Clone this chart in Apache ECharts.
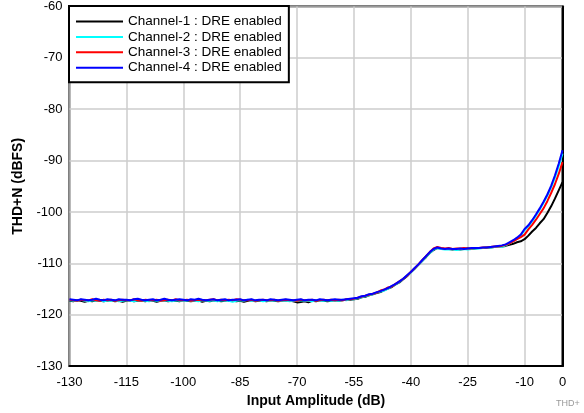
<!DOCTYPE html>
<html><head><meta charset="utf-8">
<script src="https://cdn.jsdelivr.net/npm/echarts@6/dist/echarts.min.js"></script>
<style>html,body{margin:0;padding:0;background:#fff}#c{width:584px;height:413px}</style>
</head><body><div id="c"></div>
<script>
const inputAmplitude = [-130,-129,-128,-127,-126,-125,-124,-123,-122,-121,-120,-119,-118,-117,-116,-115,-114,-113,-112,-111,-110,-109,-108,-107,-106,-105,-104,-103,-102,-101,-100,-99,-98,-97,-96,-95,-94,-93,-92,-91,-90,-89,-88,-87,-86,-85,-84,-83,-82,-81,-80,-79,-78,-77,-76,-75,-74,-73,-72,-71,-70,-69,-68,-67,-66,-65,-64,-63,-62,-61,-60,-59,-58,-57,-56,-55,-54,-53,-52,-51,-50,-49,-48,-47,-46,-45,-44,-43,-42,-41,-40,-39,-38,-37,-36,-35,-34,-33,-32,-31,-30,-29,-28,-27,-26,-25,-24,-23,-22,-21,-20,-19,-18,-17,-16,-15,-14,-13,-12,-11,-10,-9,-8,-7,-6,-5,-4,-3,-2,-1,0];

const ch1 = [-117.3,-117.4,-117.2,-117.3,-117.5,-117.3,-117.4,-117.2,-117.3,-117.4,
 -117.3,-117.2,-117.4,-117.3,-117.5,-117.3,-117.2,-117.4,-117.3,-117.3,
 -117.4,-117.2,-117.3,-117.5,-117.3,-117.2,-117.4,-117.3,-117.3,-117.4,
 -117.2,-117.3,-117.4,-117.3,-117.2,-117.5,-117.3,-117.4,-117.2,-117.3,
 -117.4,-117.3,-117.2,-117.3,-117.4,-117.3,-117.5,-117.3,-117.2,-117.4,
 -117.3,-117.3,-117.4,-117.2,-117.3,-117.4,-117.3,-117.2,-117.3,-117.4,
 -117.6,-117.5,-117.4,-117.6,-117.3,-117.4,-117.2,-117.3,-117.4,-117.3,
 -117.2,-117.3,-117.2,-117.1,
 -117.1,-117.0,-116.9,-116.6,-116.5,-116.2,-116.0,-115.8,-115.6,-115.2,-114.9,-114.6,-114.1,-113.7,-113.1,-112.5,-111.7,-111.0,-110.3,-109.5,-108.8,-108.0,-107.4,
 -107.0,-107.1,-107.2,-107.2,-107.3,-107.2,-107.3,-107.2,-107.1,-107.2,-107.1,-107.0,-107.0,-106.9,-106.9,-106.8,-106.7,-106.7,
 -106.6,-106.4,-106.2,-105.9,-105.7,-105.3,-104.6,-103.8,-103.1,-102.2,-101.4,-100.2,-98.9,-97.4,-95.8,-94.2];

const ch2 = [-117.2,-117.3,-117.3,-117.1,-117.3,-117.4,-117.2,-117.3,-117.2,-117.4,
 -117.3,-117.3,-117.2,-117.4,-117.3,-117.2,-117.3,-117.4,-117.2,-117.3,
 -117.3,-117.4,-117.2,-117.3,-117.3,-117.2,-117.3,-117.4,-117.2,-117.3,
 -117.3,-117.2,-117.3,-117.3,-117.4,-117.2,-117.3,-117.3,-117.2,-117.4,
 -117.2,-117.3,-117.3,-117.5,-117.3,-117.2,-117.3,-117.1,-117.3,-117.3,
 -117.2,-117.4,-117.3,-117.3,-117.2,-117.3,-117.3,-117.2,-117.4,-117.3,
 -117.3,-117.2,-117.3,-117.3,-117.4,-117.2,-117.3,-117.3,-117.2,-117.3,
 -117.2,-117.3,-117.1,-117.2,
 -117.0,-117.0,-116.8,-116.6,-116.4,-116.2,-116.0,-115.7,-115.5,-115.3,-114.9,-114.5,-114.1,-113.6,-113.0,-112.4,-111.8,-111.1,-110.3,-109.6,-108.7,-108.0,-107.3,
 -107.0,-107.2,-107.3,-107.3,-107.2,-107.4,-107.3,-107.2,-107.3,-107.2,-107.1,-107.1,-107.0,-106.9,-106.9,-106.8,-106.7,-106.8,
 -106.5,-106.1,-105.7,-105.2,-104.6,-103.5,-102.8,-101.8,-100.7,-99.5,-98.2,-96.8,-95.2,-93.3,-91.1,-88.6];

const ch3 = [-117.1,-117.2,-117.3,-117.1,-117.2,-117.2,-117.0,-117.2,-117.3,-117.1,
 -117.2,-117.1,-117.3,-117.2,-117.1,-117.2,-117.2,-117.0,-117.2,-117.3,
 -117.1,-117.2,-117.2,-117.1,-117.3,-117.2,-117.1,-117.2,-117.0,-117.2,
 -117.2,-117.1,-117.3,-117.2,-117.1,-117.2,-117.2,-117.1,-117.0,-117.2,
 -117.1,-117.2,-117.1,-117.2,-117.0,-117.1,-117.2,-117.2,-117.1,-117.3,
 -117.2,-117.1,-117.2,-117.2,-117.1,-117.3,-117.2,-117.1,-117.2,-117.2,
 -117.3,-117.1,-117.2,-117.2,-117.1,-117.3,-117.2,-117.1,-117.2,-117.1,
 -117.2,-117.1,-117.2,-117.0,
 -117.0,-116.9,-116.7,-116.5,-116.3,-116.1,-115.9,-115.7,-115.3,-115.1,-114.7,-114.5,-114.0,-113.5,-113.0,-112.4,-111.7,-111.0,-110.2,-109.4,-108.6,-107.8,-107.1,
 -106.8,-107.0,-107.1,-107.0,-107.2,-107.1,-107.1,-107.0,-107.1,-107.1,-107.0,-107.0,-106.9,-106.9,-106.8,-106.7,-106.7,-106.6,
 -106.4,-106.1,-105.7,-105.3,-104.9,-104.4,-103.4,-102.5,-101.5,-100.4,-99.3,-97.9,-96.3,-94.6,-92.6,-90.3];

const ch4 = [-117.0,-117.1,-117.2,-117.0,-117.1,-117.2,-117.1,-116.9,-117.1,-117.2,
 -117.0,-117.1,-117.2,-117.0,-117.1,-117.1,-117.2,-117.0,-116.9,-117.1,
 -117.2,-117.1,-117.0,-117.2,-117.1,-116.9,-117.1,-117.2,-117.1,-117.0,
 -117.1,-117.2,-117.0,-117.1,-116.9,-117.1,-117.2,-117.1,-117.0,-117.2,
 -117.1,-117.0,-117.2,-117.1,-117.1,-117.0,-117.2,-117.1,-117.0,-117.2,
 -117.1,-117.1,-117.2,-117.0,-117.1,-117.2,-117.1,-117.0,-117.1,-117.2,
 -117.1,-117.0,-117.2,-117.1,-117.1,-117.2,-117.0,-117.1,-117.2,-117.1,
 -117.0,-117.1,-117.1,-117.0,
 -116.9,-116.8,-116.7,-116.4,-116.3,-116.0,-115.9,-115.6,-115.4,-115.1,-114.8,-114.4,-114.0,-113.5,-113.0,-112.3,-111.7,-110.9,-110.2,-109.4,-108.6,-107.8,-107.2,
 -106.9,-107.1,-107.2,-107.1,-107.2,-107.2,-107.1,-107.2,-107.1,-107.0,-107.0,-107.0,-106.9,-106.9,-106.8,-106.7,-106.6,-106.5,
 -106.3,-105.9,-105.5,-105.0,-104.4,-103.3,-102.6,-101.6,-100.5,-99.3,-98.0,-96.6,-94.9,-92.9,-90.6,-88.0];

const seriesNames = ['Channel-1 : DRE enabled','Channel-2 : DRE enabled','Channel-3 : DRE enabled','Channel-4 : DRE enabled'];
const seriesColors = ['#000000','#00ffff','#ff0000','#0000ff'];
const seriesValues = [ch1, ch2, ch3, ch4];

const FONT = 'Liberation Sans, Arial, Helvetica, sans-serif';
const chart = echarts.init(document.getElementById('c'), null, {renderer:'canvas'});
chart.setOption({
  animation:false,
  backgroundColor:'#fff',
  grid:{left:69.5,right:21.5,top:5.5,bottom:46,show:true,borderColor:'#000',borderWidth:2,containLabel:false},
  legend:{
    orient:'vertical', left:69, top:6,
    backgroundColor:'#fff', borderColor:'#000', borderWidth:2,
    padding:[8,7,7,7], itemGap:0.4, itemWidth:47, itemHeight:2, itemTextGap:6,
    icon:'rect',
    textStyle:{fontFamily:FONT,fontSize:13.5,color:'#000',lineHeight:15},
    data:seriesNames
  },
  xAxis:{
    type:'value', min:-130, max:0, interval:15,
    name:'Input Amplitude (dB)', nameLocation:'middle', nameGap:24,
    nameTextStyle:{fontFamily:FONT,fontSize:14,fontWeight:'bold',color:'#000'},
    axisLine:{show:true,lineStyle:{color:'#000',width:2}},
    axisTick:{show:false},
    axisLabel:{fontFamily:FONT,fontSize:13,color:'#000',margin:10,showMaxLabel:true},
    splitLine:{show:true,lineStyle:{color:'#cccccc',width:1.5}}
  },
  yAxis:{
    type:'value', min:-130, max:-60, interval:10,
    name:'THD+N (dBFS)', nameLocation:'middle', nameGap:41,
    nameTextStyle:{fontFamily:FONT,fontSize:14,fontWeight:'bold',color:'#000'},
    axisLine:{show:true,lineStyle:{color:'#000',width:2}},
    axisTick:{show:false},
    axisLabel:{fontFamily:FONT,fontSize:13,color:'#000',margin:7},
    splitLine:{show:true,lineStyle:{color:'#cccccc',width:1.5}}
  },
  graphic:[{type:'text',left:556,top:399,style:{text:'THD+',fontFamily:FONT,fontSize:9,fill:'#999'}}],
  series: seriesNames.map((n,i)=>({
    name:n, type:'line', showSymbol:false, symbol:'none',
    lineStyle:{color:seriesColors[i],width:2}, itemStyle:{color:seriesColors[i]},
    data: inputAmplitude.map((x,j)=>[x, seriesValues[i][j]]),
    z: 2+i
  }))
});
</script></body></html>
